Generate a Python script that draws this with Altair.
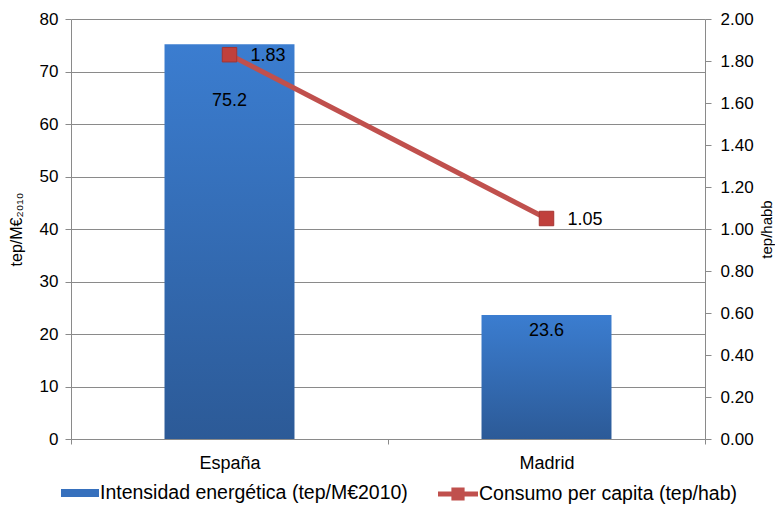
import altair as alt
import pandas as pd

categories = ["España", "Madrid"]
intensidad = [75.2, 23.6]
consumo = [1.83, 1.05]

label_bar = "Intensidad energética (tep/M€2010)"
label_line = "Consumo per capita (tep/hab)"

df = pd.DataFrame({
    "region": categories,
    "intensidad": intensidad,
    "consumo": consumo,
    "sbar": [label_bar] * len(categories),
    "sline": [label_line] * len(categories),
})

FONT = "Liberation Sans"
GRID = "#8a8a8a"

x_enc = alt.X(
    "region:N",
    sort=categories,
    scale=alt.Scale(paddingInner=0, paddingOuter=0),
    axis=alt.Axis(
        title=None, labelAngle=0, tickBand="extent", domainColor=GRID,
        tickColor=GRID, tickSize=5, labelPadding=10, labelFontSize=18,
        labelFont=FONT, labelColor="#000000", grid=False,
    ),
)

y_left = alt.Y(
    "intensidad:Q",
    scale=alt.Scale(domain=[0, 80]),
    axis=alt.Axis(
        title="tep/M€₂₀₁₀", values=list(range(0, 81, 10)), grid=True,
        gridColor=GRID, domainColor=GRID, tickColor=GRID, tickSize=6,
        labelPadding=7, labelFontSize=17, labelFont=FONT, labelColor="#000000",
        titleFont=FONT, titleFontSize=16, titleFontWeight="normal",
        titleColor="#000000", titlePadding=15,
    ),
)

gradient = alt.Gradient(
    gradient="linear",
    stops=[alt.GradientStop(color="#3b7dd0", offset=0),
           alt.GradientStop(color="#2c5a97", offset=1)],
    x1=0, x2=0, y1=0, y2=1,
)

bars = alt.Chart(df).mark_bar(color=gradient, width=alt.RelativeBandSize(0.41)).encode(
    x=x_enc, y=y_left
)

bar_legend = alt.Chart(df).mark_bar(fillOpacity=0, width=alt.RelativeBandSize(0.41)).encode(
    x=x_enc, y=y_left,
    fill=alt.Fill(
        "sbar:N",
        scale=alt.Scale(domain=[label_bar], range=["#3670bd"]),
        legend=alt.Legend(
            title=None, orient="none", legendX=-10, legendY=455,
            symbolType="M-1,-0.21H1V0.21H-1Z", symbolSize=1444,
            symbolOpacity=1, symbolFillColor="#3670bd", symbolStrokeWidth=0,
            labelFont=FONT, labelFontSize=19.5, labelColor="#000000", labelOffset=1,
            labelLimit=0,
        ),
    ),
)

lbl_es = alt.Chart(df).transform_filter(alt.datum.region == categories[0]).mark_text(
    dy=57, font=FONT, fontSize=18, color="#000000"
).encode(x=x_enc, y=y_left, text=alt.Text("intensidad:Q", format=".1f"))

lbl_md = alt.Chart(df).transform_filter(alt.datum.region == categories[1]).mark_text(
    dy=16, font=FONT, fontSize=18, color="#000000"
).encode(x=x_enc, y=y_left, text=alt.Text("intensidad:Q", format=".1f"))

left = alt.layer(bars, bar_legend, lbl_es, lbl_md)

y_right = alt.Y(
    "consumo:Q",
    scale=alt.Scale(domain=[0, 2]),
    axis=alt.Axis(
        title="tep/habb", orient="right", values=[i / 5 for i in range(11)],
        format=".2f", grid=False, domainColor=GRID, tickColor=GRID, tickSize=6,
        labelPadding=9, labelFontSize=17, labelFont=FONT, labelColor="#000000",
        titleFont=FONT, titleFontSize=15, titleFontWeight="normal",
        titleColor="#000000", titleAngle=270, titleBaseline="top", titlePadding=6,
    ),
)

line = alt.Chart(df).mark_line(strokeWidth=5).encode(
    x=x_enc, y=y_right,
    stroke=alt.Stroke(
        "sline:N",
        scale=alt.Scale(domain=[label_line], range=["#c0504d"]),
        legend=alt.Legend(
            title=None, orient="none", legendX=367, legendY=455,
            symbolType="M-1,-0.125H1V0.125H-1Z M-0.33,-0.33H0.33V0.33H-0.33Z",
            symbolSize=1600, symbolFillColor="#c0504d", symbolStrokeWidth=0,
            symbolOpacity=1,
            labelFont=FONT, labelFontSize=19.5, labelColor="#000000", labelOffset=1,
            labelLimit=0,
        ),
    ),
)

points = alt.Chart(df).mark_point(
    shape="square", filled=True, size=210, fill="#c0403c", stroke="#a53431",
    strokeWidth=1, opacity=1,
).encode(x=x_enc, y=y_right)

line_lbl = alt.Chart(df).mark_text(
    align="left", dx=21, dy=1, font=FONT, fontSize=18, color="#000000"
).encode(x=x_enc, y=y_right, text=alt.Text("consumo:Q", format=".2f"))

right = alt.layer(line, points, line_lbl)

chart = alt.layer(left, right).resolve_scale(y="independent").properties(
    width=634, height=420,
    padding={"left": 0, "top": 2, "right": 0, "bottom": 0},
    background="white",
).configure_view(strokeWidth=0)

chart.save("out.html", embed_options={"renderer": "svg", "actions": False})
